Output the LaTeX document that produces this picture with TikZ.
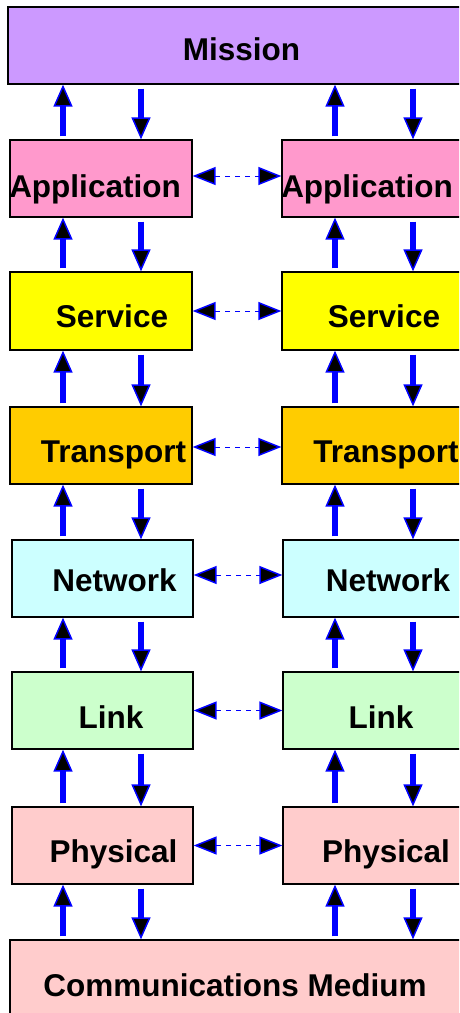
\documentclass[tikz,border=0pt]{standalone}
\usepackage{fontspec}
\setmainfont{Liberation Sans}
\usetikzlibrary{arrows.meta,calc}
\definecolor{cmission}{HTML}{CC99FF}
\definecolor{capp}{HTML}{FF99CC}
\definecolor{csvc}{HTML}{FFFF00}
\definecolor{ctr}{HTML}{FFCC00}
\definecolor{cnet}{HTML}{CCFFFF}
\definecolor{clink}{HTML}{CCFFCC}
\definecolor{cphy}{HTML}{FFCCCC}
\definecolor{cblue}{HTML}{0000FF}
\tikzset{
  layerbox/.style={draw=black,line width=1.3pt,rectangle,inner sep=0pt,minimum width=182pt,minimum height=77pt},
  lbl/.style={anchor=base,inner sep=0pt,font=\fontsize{31.5}{36}\selectfont\bfseries},
  uparr/.style={draw=cblue,line width=5.5pt,-{Triangle[length=22pt,width=19pt,line width=1.5pt,fill=black]}},
  dashtip/.style={draw=cblue,line width=1pt,dash pattern=on 5pt off 5pt,{Triangle[length=23pt,width=18pt,line width=1.5pt,fill=black]}-{Triangle[length=23pt,width=18pt,line width=1.5pt,fill=black]}}
}
\begin{document}
\begin{tikzpicture}[x=1pt,y=-1pt]
\useasboundingbox (0,0) rectangle (459,1013);
\clip (0,0) rectangle (459,1013);
\fill[white] (0,0) rectangle (459,1013);
% column x positions
\coordinate (xu) at (63,0);
\coordinate (xd) at (141,0);
\coordinate (xU) at (335,0);
\coordinate (xD) at (413,0);
% boxes
\node[layerbox,fill=cmission,minimum width=462pt] (mission) at (239,45.5) {};
\node[layerbox,fill=capp] (appL) at (101,178.5) {};
\node[layerbox,fill=capp] (appR) at (373,178.5) {};
\node[layerbox,fill=csvc,minimum height=78pt] (svcL) at (101,311) {};
\node[layerbox,fill=csvc,minimum height=78pt] (svcR) at (373,311) {};
\node[layerbox,fill=ctr] (trL) at (101,445.5) {};
\node[layerbox,fill=ctr] (trR) at (373,445.5) {};
\node[layerbox,fill=cnet,minimum width=181pt] (netL) at (102.5,578.5) {};
\node[layerbox,fill=cnet] (netR) at (374,578.5) {};
\node[layerbox,fill=clink,minimum width=181pt] (linkL) at (102.5,710.5) {};
\node[layerbox,fill=clink] (linkR) at (374,710.5) {};
\node[layerbox,fill=cphy,minimum width=181pt] (phyL) at (102.5,845.5) {};
\node[layerbox,fill=cphy] (phyR) at (374,845.5) {};
\node[layerbox,fill=cphy,minimum width=460pt,minimum height=80pt] (comm) at (240,980) {};
% labels
\node[lbl] (tmission) at (241.5,60) {Mission};
\node[lbl] (tappL) at (95,197) {Application};
\node[lbl] (tappR) at (367,197) {Application};
\node[lbl] (tsvcL) at (112,327) {Service};
\node[lbl] (tsvcR) at (384,327) {Service};
\node[lbl] (ttrL) at (113.5,462) {Transport};
\node[lbl] (ttrR) at (386,462) {Transport};
\node[lbl] (tnetL) at (114.5,591) {Network};
\node[lbl] (tnetR) at (388,591) {Network};
\node[lbl] (tlinkL) at (111,728) {Link};
\node[lbl] (tlinkR) at (381,728) {Link};
\node[lbl] (tphyL) at (113.5,862) {Physical};
\node[lbl] (tphyR) at (386,862) {Physical};
\node[lbl] (tcomm) at (235,996) {Communications Medium};
% vertical arrows
\foreach \u/\l in {mission/appL,appL/svcL,svcL/trL,trL/netL,netL/linkL,linkL/phyL,phyL/comm}{
  \draw[uparr] ($(\l.north -| xu)+(0,-3)$) -- (\u.south -| xu);
  \draw[uparr] ($(\u.south -| xd)+(0,4)$) -- (\l.north -| xd);
}
\foreach \u/\l in {mission/appR,appR/svcR,svcR/trR,trR/netR,netR/linkR,linkR/phyR,phyR/comm}{
  \draw[uparr] ($(\l.north -| xU)+(0,-3)$) -- (\u.south -| xU);
  \draw[uparr] ($(\u.south -| xD)+(0,4)$) -- (\l.north -| xD);
}
% peer connectors
\draw[dashtip] ([yshift=2.5pt]appL.east) -- ([yshift=2.5pt]appR.west);
\draw[dashtip] (svcL.east) -- (svcR.west);
\draw[dashtip] ([yshift=-1.5pt]trL.east) -- ([yshift=-1.5pt]trR.west);
\draw[dashtip] ([yshift=3.5pt]netL.east) -- ([yshift=3.5pt]netR.west);
\draw[dashtip] (linkL.east) -- (linkR.west);
\draw[dashtip] (phyL.east) -- (phyR.west);
\end{tikzpicture}
\end{document}
